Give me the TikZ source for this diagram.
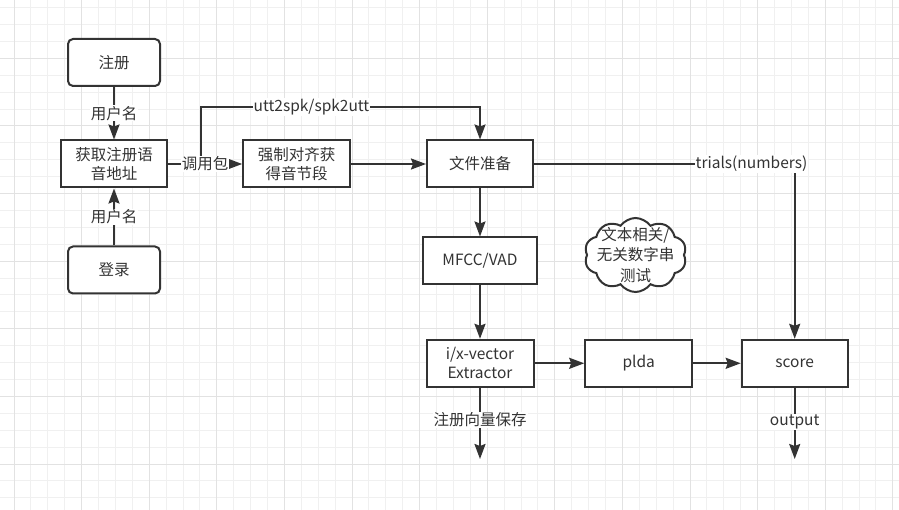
\documentclass[tikz,border=0pt]{standalone}
\usepackage{fontspec}
\setmainfont{Noto Sans CJK SC}
\usetikzlibrary{arrows.meta,shapes.symbols}
\definecolor{ink}{HTML}{333333}
\definecolor{gminor}{HTML}{F0F0F0}
\definecolor{gmajor}{HTML}{E2E2E2}
\begin{document}
\begin{tikzpicture}[x=1pt,y=-1pt,
 box/.style={draw=ink, line width=2pt, fill=white, text=ink, minimum height=47pt, inner sep=0pt, align=center, font=\fontsize{15.5}{19}\selectfont},
 rbox/.style={box, rounded corners=5pt},
 lab/.style={fill=white, text=ink, inner sep=1pt, font=\fontsize{15.5}{19}\selectfont},
 conn/.style={draw=ink, line width=2pt, -{Stealth[length=15pt,width=11pt,inset=2pt]}},
 cloudbox/.style={cloud, draw=ink, line width=2pt, fill=white, cloud puffs=10, cloud puff arc=110, minimum width=102pt, minimum height=74pt, inner sep=0pt},
 cloudtext/.style={text=ink, inner sep=0pt, align=center, font=\fontsize{15.5}{20.5}\selectfont}]
\useasboundingbox (0,0) rectangle (899,510);
\fill[white] (0,0) rectangle (899,510);
% grid
\foreach \i in {0,...,52}{\pgfmathsetmacro\xx{14+16.9*\i}\draw[gminor, line width=1pt] (\xx,0) -- (\xx,510);}
\foreach \j in {0,...,29}{\pgfmathsetmacro\yy{7.7+16.9*\j}\draw[gminor, line width=1pt] (0,\yy) -- (899,\yy);}
\foreach \i in {0,4,...,52}{\pgfmathsetmacro\xx{14+16.9*\i}\draw[gmajor, line width=1pt] (\xx,0) -- (\xx,510);}
\foreach \j in {3,7,...,27}{\pgfmathsetmacro\yy{7.7+16.9*\j}\draw[gmajor, line width=1pt] (0,\yy) -- (899,\yy);}
% nodes
\node[rbox, minimum width=92pt] (reg) at (114,62.5) {注册};
\node[box, minimum width=106pt] (get) at (114,164) {获取注册语\\音地址};
\node[rbox, minimum width=92pt] (login) at (114,270) {登录};
\node[box, minimum width=107pt] (align) at (296.7,164) {强制对齐获\\得音节段};
\node[box, minimum width=106pt] (prep) at (480,164) {文件准备};
\node[box, minimum width=114pt] (mfcc) at (480,261) {MFCC/VAD};
\node[box, minimum width=107pt] (ext) at (480,363.3) {i/x-vector\\Extractor};
\node[box, minimum width=107pt] (plda) at (638.7,363.3) {plda};
\node[box, minimum width=106pt] (score) at (794.7,363.3) {score};
\node[cloudbox] (cloud) at (635.5,255) {};
\node[cloudtext] (cloudt) at (cloud.center) {文本相关/\\无关数字串\\测试};
% connectors
\coordinate (b1) at (201,164);
\coordinate (b2) at (201,107.3);
\draw[conn] (get.east) -- (b1) -- (b2) -| (prep.north);
\node[lab] (u2s) at (311.5,107.3) {utt2spk/spk2utt};
\draw[conn] (reg) -- node[lab] (l1) {用户名} (get);
\draw[conn] (login) -- node[lab] (l2) {用户名} (get);
\draw[conn] (get) -- node[lab] (l3) {调用包} (align);
\draw[conn] (align) -- (prep);
\draw[conn] (prep) -- (mfcc);
\draw[conn] (mfcc) -- (ext);
\draw[conn] (ext) -- (plda);
\draw[conn] (plda) -- (score);
\draw[conn] (prep.east) -| (score.north);
\node[lab] (trials) at (751.5,164) {trials(numbers)};
\coordinate (extout) at (480,459);
\coordinate (scoreout) at (794.7,459);
\draw[conn] (ext) -- (extout);
\node[lab] (save) at (480,420) {注册向量保存};
\draw[conn] (score) -- (scoreout);
\node[lab] (outl) at (794.7,422) {output};
\end{tikzpicture}
\end{document}
